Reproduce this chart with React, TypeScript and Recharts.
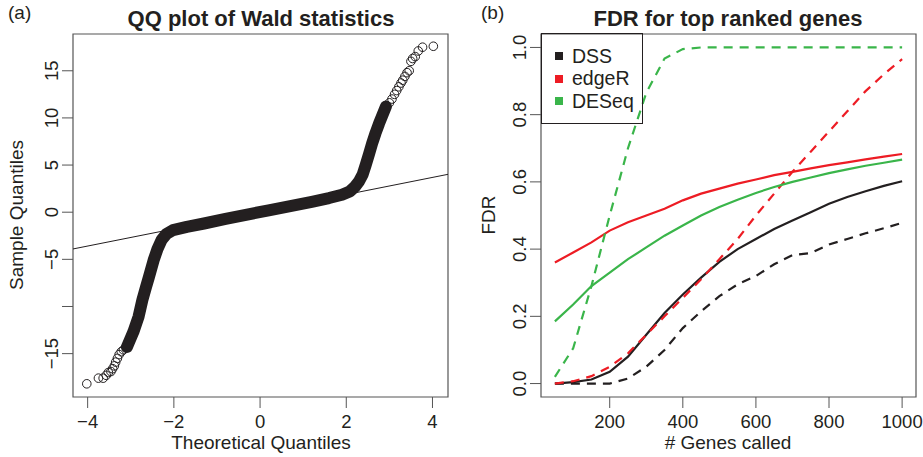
import React from "react"
import {
  ComposedChart,
  LineChart,
  Line,
  Scatter,
  XAxis,
  YAxis,
  ReferenceArea,
  ReferenceLine,
} from "recharts"

// ---- panel (a): QQ plot ----
// dense part of the QQ curve (drawn as a thick band)
const bandX = [
  -3.09, -2.94, -2.82, -2.73, -2.65, -2.58, -2.47, -2.38, -2.28, -2.17, -2.02, -1.7, -1.3, -0.8, -0.3,
  0.2, 0.7, 1.2, 1.6, 1.9, 2.08, 2.2, 2.3, 2.38, 2.45, 2.53, 2.6, 2.68, 2.76, 2.84, 2.92,
]
const bandY = [
  -14.3, -12.7, -11.1, -9.3, -8.0, -6.9, -5.1, -3.9, -2.9, -2.3, -1.9, -1.55, -1.2, -0.72, -0.25,
  0.2, 0.65, 1.1, 1.5, 1.85, 2.2, 2.7, 3.3, 4.0, 5.0, 6.2, 7.3, 8.4, 9.4, 10.3, 11.2,
]
// sparse tails, drawn as open circles
const lowX = [-4.02, -3.75, -3.64, -3.57, -3.52, -3.46, -3.42, -3.38, -3.35, -3.31, -3.27, -3.22, -3.17]
const lowY = [-18.2, -17.6, -17.6, -17.3, -17.0, -16.9, -16.6, -16.3, -15.9, -15.5, -15.1, -14.8, -14.6]
const highX = [3.0, 3.06, 3.12, 3.17, 3.22, 3.27, 3.31, 3.36, 3.41, 3.46, 3.5, 3.54, 3.6, 3.67, 3.77, 4.02]
const highY = [11.6, 12.0, 12.5, 12.9, 13.3, 13.7, 14.0, 14.4, 14.8, 15.0, 16.0, 16.3, 16.5, 17.1, 17.5, 17.6]
const qqLine = { intercept: 0.05, slope: 0.91 }
const qqXDomain = [-4.34, 4.36]
const qqYDomain = [-19.6, 18.9]
const qqXTicks = [-4, -2, 0, 2, 4]
const qqXTickLabels = ["\u22124", "\u22122", "0", "2", "4"]
const qqYTicks = [-15, -10, -5, 0, 5, 10, 15]
const qqYTickLabels = ["\u221215", "", "\u22125", "0", "5", "10", "15"]

// ---- panel (b): FDR curves ----
const genesCalled = [50, 100, 150, 200, 250, 300, 350, 400, 450, 500, 550, 600, 650, 700, 750, 800, 850, 900, 950, 1000]
const dss = [0.0, 0.004, 0.012, 0.035, 0.08, 0.145, 0.21, 0.265, 0.315, 0.362, 0.4, 0.43, 0.46, 0.485, 0.51, 0.535, 0.555, 0.572, 0.588, 0.602]
const dssDashed = [0, 0, 0, 0, 0.015, 0.05, 0.1, 0.165, 0.215, 0.26, 0.295, 0.32, 0.355, 0.382, 0.388, 0.414, 0.43, 0.447, 0.462, 0.478]
const edgeR = [0.36, 0.39, 0.42, 0.455, 0.48, 0.5, 0.52, 0.545, 0.565, 0.58, 0.595, 0.607, 0.62, 0.63, 0.64, 0.65, 0.658, 0.667, 0.675, 0.683]
const edgeRDashed = [0.0, 0.007, 0.022, 0.05, 0.09, 0.145, 0.2, 0.255, 0.31, 0.37, 0.43, 0.5, 0.565, 0.63, 0.69, 0.75, 0.81, 0.87, 0.92, 0.965]
const deseq = [0.185, 0.235, 0.29, 0.33, 0.37, 0.405, 0.44, 0.47, 0.5, 0.525, 0.547, 0.567, 0.585, 0.6, 0.613, 0.626, 0.637, 0.648, 0.657, 0.666]
const deseqDashed = [0.02, 0.105, 0.29, 0.5, 0.7, 0.865, 0.967, 0.995, 1, 1, 1, 1, 1, 1, 1, 1, 1, 1, 1, 1]
const fdrXTicks = [200, 400, 600, 800, 1000]
const fdrYTicks = [0, 0.2, 0.4, 0.6, 0.8, 1.0]
const methods = ["DSS", "edgeR", "DESeq"]

const INK = "#231F20"
const RED = "#ED1C24"
const GREEN = "#3AB54A"
const AXIS = "#555555"
const FONT = '"Liberation Sans", Arial, Helvetica, sans-serif'
const methodColors = [INK, RED, GREEN]

const band = bandX.map((x, i) => ({ x, y: bandY[i] }))
const tails = [
  ...lowX.map((x, i) => ({ x, y: lowY[i] })),
  ...highX.map((x, i) => ({ x, y: highY[i] })),
]
const fdrRows = genesCalled.map((n, i) => ({
  n,
  dss: dss[i],
  dssDashed: dssDashed[i],
  edgeR: edgeR[i],
  edgeRDashed: edgeRDashed[i],
  deseq: deseq[i],
  deseqDashed: deseqDashed[i],
}))

const txt = { fontFamily: FONT, fill: INK }

function makeXTick(labels: string[], ticks: number[]) {
  return (p: any) => {
    const i = ticks.indexOf(p.payload.value)
    return (
      <text x={p.x} y={p.y + 18} textAnchor="middle" fontSize={18.5} {...txt}>
        {i >= 0 ? labels[i] : p.payload.value}
      </text>
    )
  }
}

function makeYTick(labels: string[], ticks: number[]) {
  return (p: any) => {
    const i = ticks.indexOf(p.payload.value)
    return (
      <text
        transform={`translate(${p.x - 2.4},${p.y}) rotate(-90)`}
        textAnchor="middle"
        fontSize={18.5}
        {...txt}
      >
        {i >= 0 ? labels[i] : p.payload.value}
      </text>
    )
  }
}

const openCircle = (p: any) => (
  <circle cx={p.cx} cy={p.cy} r={4.3} fill="none" stroke={INK} strokeWidth={1} />
)

function QQPanel() {
  const y0 = qqLine.intercept + qqLine.slope * qqXDomain[0]
  const y1 = qqLine.intercept + qqLine.slope * qqXDomain[1]
  return (
    <div style={{ position: "absolute", left: 0, top: 0, width: 460, height: 457 }}>
      <ComposedChart width={460} height={457} margin={{ top: 34, right: 12, bottom: 0, left: 23 }}>
        <XAxis
          type="number"
          dataKey="x"
          domain={qqXDomain}
          ticks={qqXTicks}
          allowDataOverflow
          height={60}
          axisLine={false}
          tickLine={{ stroke: AXIS }}
          tickSize={11}
          tick={makeXTick(qqXTickLabels, qqXTicks)}
        />
        <YAxis
          type="number"
          dataKey="y"
          domain={qqYDomain}
          ticks={qqYTicks}
          allowDataOverflow
          width={50}
          axisLine={false}
          tickLine={{ stroke: AXIS }}
          tickSize={11}
          tick={makeYTick(qqYTickLabels, qqYTicks)}
        />
        <ReferenceArea
          x1={qqXDomain[0]}
          x2={qqXDomain[1]}
          y1={qqYDomain[0]}
          y2={qqYDomain[1]}
          fill="none"
          fillOpacity={0}
          stroke={AXIS}
          strokeWidth={1.2}
        />
        <ReferenceLine
          segment={[
            { x: qqXDomain[0], y: y0 },
            { x: qqXDomain[1], y: y1 },
          ]}
          stroke={INK}
          strokeWidth={1}
        />
        <Scatter
          data={band}
          line={{ stroke: INK, strokeWidth: 12, strokeLinejoin: "round", strokeLinecap: "round" }}
          shape={() => <g />}
          isAnimationActive={false}
        />
        <Scatter data={tails} shape={openCircle} isAnimationActive={false} />
      </ComposedChart>
      <div style={{ position: "absolute", left: 8, top: 2, fontFamily: FONT, fontSize: 19, color: INK }}>(a)</div>
      <svg width={460} height={457} style={{ position: "absolute", left: 0, top: 0, pointerEvents: "none" }}>
        <text x={261} y={26} textAnchor="middle" fontSize={22} fontWeight="bold" {...txt}>
          QQ plot of Wald statistics
        </text>
        <text x={261} y={449} textAnchor="middle" fontSize={19} {...txt}>
          Theoretical Quantiles
        </text>
        <text transform="translate(23,215) rotate(-90)" textAnchor="middle" fontSize={19} {...txt}>
          Sample Quantiles
        </text>
      </svg>
    </div>
  )
}

function FDRPanel() {
  const series = [
    { key: "dss", color: INK, dash: undefined },
    { key: "dssDashed", color: INK, dash: "9 7" },
    { key: "edgeR", color: RED, dash: undefined },
    { key: "edgeRDashed", color: RED, dash: "9 7" },
    { key: "deseq", color: GREEN, dash: undefined },
    { key: "deseqDashed", color: GREEN, dash: "9 7" },
  ]
  return (
    <div style={{ position: "absolute", left: 460, top: 0, width: 463, height: 457 }}>
      <LineChart width={463} height={457} data={fdrRows} margin={{ top: 34, right: 7, bottom: 0, left: 31 }}>
        <XAxis
          type="number"
          dataKey="n"
          domain={[12, 1038]}
          ticks={fdrXTicks}
          allowDataOverflow
          height={60}
          axisLine={false}
          tickLine={{ stroke: AXIS }}
          tickSize={11}
          tick={makeXTick(fdrXTicks.map(String), fdrXTicks)}
        />
        <YAxis
          type="number"
          domain={[-0.04, 1.04]}
          ticks={fdrYTicks}
          allowDataOverflow
          width={50}
          axisLine={false}
          tickLine={{ stroke: AXIS }}
          tickSize={11}
          tick={makeYTick(fdrYTicks.map((v) => v.toFixed(1)), fdrYTicks)}
        />
        <ReferenceArea x1={12} x2={1038} y1={-0.04} y2={1.04} fill="none" fillOpacity={0} stroke={AXIS} strokeWidth={1.2} />
        {series.map((s) => (
          <Line
            key={s.key}
            type="linear"
            dataKey={s.key}
            stroke={s.color}
            strokeWidth={2.2}
            strokeDasharray={s.dash}
            dot={false}
            activeDot={false}
            isAnimationActive={false}
          />
        ))}
      </LineChart>
      <div style={{ position: "absolute", left: 21, top: 2, fontFamily: FONT, fontSize: 19, color: INK }}>(b)</div>
      <div
        style={{
          position: "absolute",
          left: 81,
          top: 33,
          width: 102,
          height: 91,
          border: `1px solid ${INK}`,
          boxSizing: "border-box",
        }}
      >
        {methods.map((m, i) => (
          <div key={m} style={{ position: "absolute", left: 13, top: 11 + i * 22.7, height: 22, display: "flex", alignItems: "center" }}>
            <span style={{ display: "inline-block", width: 8, height: 8, background: methodColors[i] }} />
            <span style={{ marginLeft: 9, fontFamily: FONT, fontSize: 19.5, color: INK }}>{m}</span>
          </div>
        ))}
      </div>
      <svg width={463} height={457} style={{ position: "absolute", left: 0, top: 0, pointerEvents: "none" }}>
        <text x={268} y={26} textAnchor="middle" fontSize={22} fontWeight="bold" {...txt}>
          FDR for top ranked genes
        </text>
        <text x={268} y={449} textAnchor="middle" fontSize={19} {...txt}>
          # Genes called
        </text>
        <text transform="translate(35,215) rotate(-90)" textAnchor="middle" fontSize={19} {...txt}>
          FDR
        </text>
      </svg>
    </div>
  )
}

export default function App() {
  return (
    <div style={{ position: "absolute", left: 0, top: 0, width: 923, height: 457, background: "#fff", overflow: "hidden" }}>
      <QQPanel />
      <FDRPanel />
    </div>
  )
}
